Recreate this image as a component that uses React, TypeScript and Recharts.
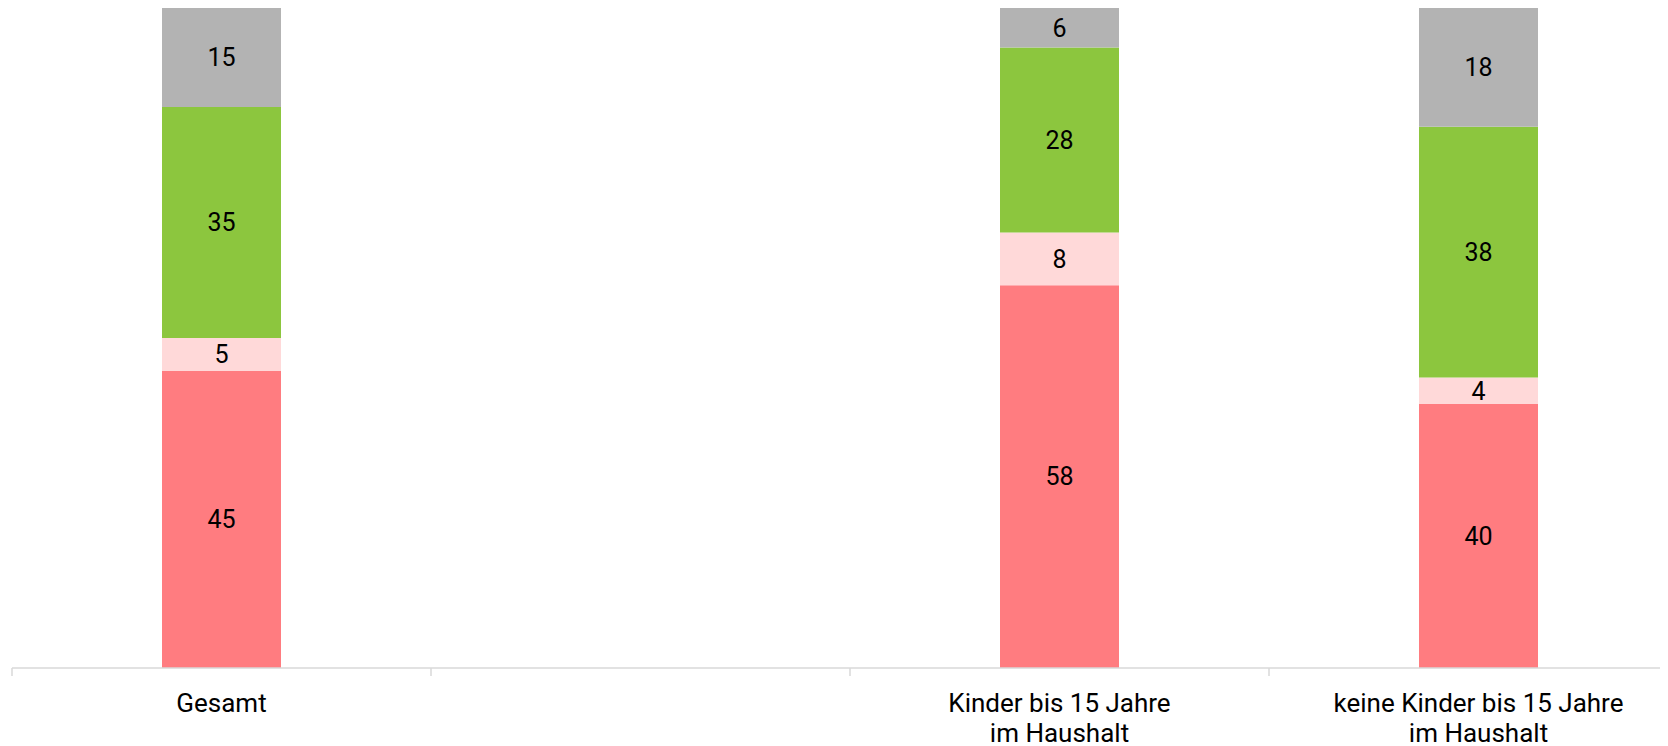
import { Bar, BarChart, LabelList, XAxis, YAxis } from "recharts";

const categories = [
  "Gesamt",
  "",
  "Kinder bis 15 Jahre\nim Haushalt",
  "keine Kinder bis 15 Jahre\nim Haushalt",
];
const redValues = [45, null, 58, 40];
const pinkValues = [5, null, 8, 4];
const greenValues = [35, null, 28, 38];
const greyValues = [15, null, 6, 18];

const data = categories.map((name, i) => ({
  name,
  red: redValues[i],
  pink: pinkValues[i],
  green: greenValues[i],
  grey: greyValues[i],
}));

const CHART_W = 1680;
const MARGIN_L = 4;
const BAND = (CHART_W - MARGIN_L) / categories.length;

// category label, plus a small tick at the left band edge
const CategoryTick = (props: any) => {
  const { x, y, payload } = props;
  const lines = String(payload.value).split("\n");
  return (
    <g>
      <line
        x1={x - BAND / 2}
        x2={x - BAND / 2}
        y1={y - 8}
        y2={y}
        stroke="#d9d9d9"
        strokeWidth={1.5}
      />
      {lines.map((line, i) => (
        <text
          key={i}
          x={x}
          y={y + 27 + i * 30}
          textAnchor="middle"
          dominantBaseline="central"
          fontSize={26}
          fill="#000"
        >
          {line}
        </text>
      ))}
    </g>
  );
};

const series = [
  { key: "red", color: "#ff7c80" },
  { key: "pink", color: "#ffd9d9" },
  { key: "green", color: "#8cc63e" },
  { key: "grey", color: "#b3b3b3" },
];

export default function App() {
  return (
    <div style={{ width: 1660, overflow: "hidden", fontFamily: "Roboto, sans-serif" }}>
      <BarChart
        width={CHART_W}
        height={738}
        data={data}
        margin={{ top: 0, right: 0, bottom: 0, left: MARGIN_L }}
        barSize={119}
      >
        <XAxis
          dataKey="name"
          interval={0}
          height={78}
          tickLine={false}
          axisLine={{ stroke: "#d9d9d9", strokeWidth: 1.5 }}
          tick={<CategoryTick />}
        />
        <YAxis hide domain={[0, 100]} />
        {series.map((s) => (
          <Bar
            key={s.key}
            dataKey={s.key}
            stackId="a"
            fill={s.color}
            isAnimationActive={false}
          >
            <LabelList
              dataKey={s.key}
              position="center"
              fill="#000"
              fontSize={25}
            />
          </Bar>
        ))}
      </BarChart>
    </div>
  );
}
